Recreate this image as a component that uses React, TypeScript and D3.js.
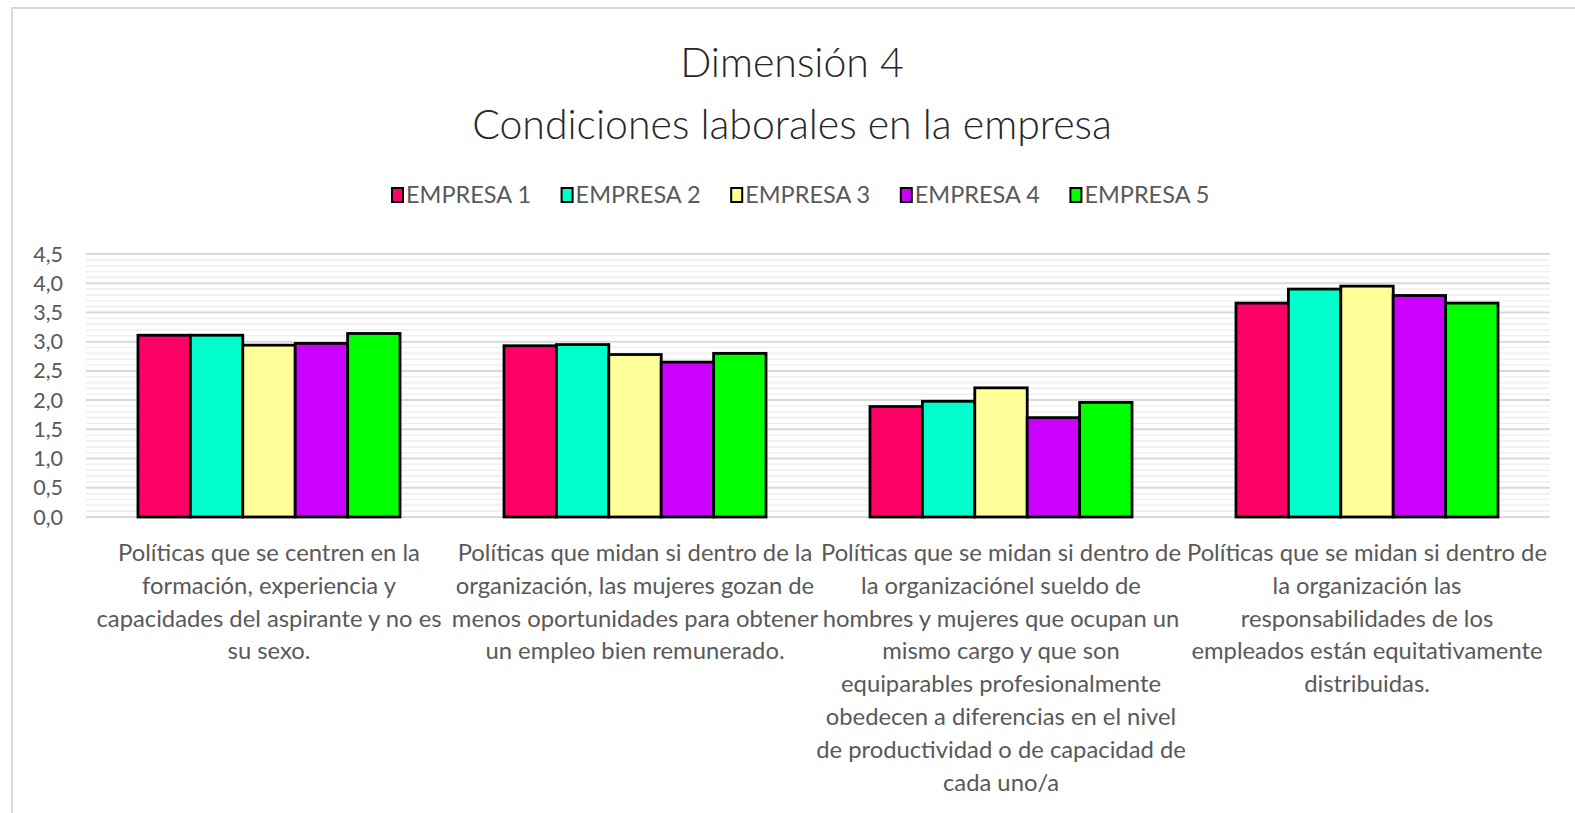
import React, { useRef, useEffect } from "react";
import * as d3 from "d3";

const series = ["EMPRESA 1", "EMPRESA 2", "EMPRESA 3", "EMPRESA 4", "EMPRESA 5"];
const colors = ["#ff0066", "#00ffcc", "#ffff99", "#cc00ff", "#00ff00"];
const categoryLines = [
  ["Políticas que se centren en la", "formación, experiencia y", "capacidades del aspirante y no es", "su sexo."],
  ["Políticas que midan si dentro de la", "organización, las mujeres gozan de", "menos oportunidades para obtener", "un empleo bien remunerado."],
  ["Políticas que se midan si dentro de", "la organizaciónel sueldo de", "hombres y mujeres que ocupan un", "mismo cargo y que son", "equiparables profesionalmente", "obedecen a diferencias en el nivel", "de productividad o de capacidad de", "cada uno/a"],
  ["Políticas que se midan si dentro de", "la organización las", "responsabilidades de los", "empleados están equitativamente", "distribuidas."],
];
const empresa1 = [3.11, 2.93, 1.89, 3.66];
const empresa2 = [3.11, 2.95, 1.98, 3.90];
const empresa3 = [2.94, 2.78, 2.21, 3.95];
const empresa4 = [2.97, 2.65, 1.70, 3.79];
const empresa5 = [3.14, 2.80, 1.96, 3.66];
const values = [empresa1, empresa2, empresa3, empresa4, empresa5];
const yTicks = [0, 0.5, 1, 1.5, 2, 2.5, 3, 3.5, 4, 4.5];

const width = 1575;
const height = 813;
const margin = { top: 254, right: 25, bottom: 296, left: 86 };
const font = "Lato, 'Open Sans', sans-serif";

export default function App() {
  const ref = useRef<SVGSVGElement>(null);
  useEffect(() => {
    if (!ref.current) return;
    const svg = d3.select(ref.current);
    svg.selectAll("*").remove();

    const yScale = d3.scaleLinear().domain([0, 4.5]).range([height - margin.bottom, margin.top]);
    const cats = categoryLines.map((_, i) => String(i));
    const x0 = d3.scaleBand().domain(cats).range([margin.left, width - margin.right]).paddingInner(0.284).paddingOuter(0.142);
    const x1 = d3.scaleBand().domain(series).range([0, x0.bandwidth()]);

    // chart frame
    svg.append("rect").attr("x", 12).attr("y", 8).attr("width", 1700).attr("height", 1000)
      .attr("fill", "#fff").attr("stroke", "#d9d9d9").attr("stroke-width", 2);

    // minor gridlines
    const minor = d3.range(0, 45).map(d => d / 10).filter(d => Math.round(d * 10) % 5 !== 0);
    svg.append("g").selectAll("line").data(minor).join("line")
      .attr("x1", margin.left).attr("x2", width - margin.right)
      .attr("y1", d => yScale(d)).attr("y2", d => yScale(d))
      .attr("stroke", "#efefef").attr("stroke-width", 1.6);
    svg.append("g").selectAll("line").data(yTicks).join("line")
      .attr("x1", margin.left).attr("x2", width - margin.right)
      .attr("y1", d => yScale(d)).attr("y2", d => yScale(d))
      .attr("stroke", "#d9d9d9").attr("stroke-width", 2);

    // y labels
    svg.append("g").selectAll("text").data(yTicks).join("text")
      .attr("x", 63).attr("y", d => yScale(d)).attr("dy", "0.35em")
      .attr("text-anchor", "end").attr("font-family", font).attr("font-size", 21.5)
      .attr("fill", "#595959").text(d => d3.format(".1f")(d).replace(".", ","));

    // bars
    values.forEach((vals, si) => {
      svg.append("g").selectAll("rect").data(vals).join("rect")
        .attr("x", (d, i) => (x0(cats[i]) as number) + (x1(series[si]) as number))
        .attr("y", d => yScale(d))
        .attr("width", x1.bandwidth())
        .attr("height", d => yScale(0) - yScale(d))
        .attr("fill", colors[si]).attr("stroke", "#000").attr("stroke-width", 2.8);
    });

    // category labels
    categoryLines.forEach((lines, i) => {
      const cx = (x0(cats[i]) as number) + x0.bandwidth() / 2;
      svg.append("text").attr("font-family", font).attr("font-size", 23.8).attr("fill", "#595959")
        .attr("text-anchor", "middle")
        .selectAll("tspan").data(lines).join("tspan")
        .attr("x", cx).attr("y", (d, j) => 561 + j * 32.8).text(d => d);
    });

    // legend
    const legend = svg.append("g");
    series.forEach((s, i) => {
      const lx = 392 + i * 169.6;
      legend.append("rect").attr("x", lx).attr("y", 188).attr("width", 11).attr("height", 14)
        .attr("fill", colors[i]).attr("stroke", "#000").attr("stroke-width", 2);
      legend.append("text").attr("x", lx + 14).attr("y", 203).attr("font-family", font)
        .attr("font-size", 23.5).attr("fill", "#595959").text(s);
    });

    // title
    const title = svg.append("text").attr("font-family", font).attr("font-size", 41)
      .attr("font-weight", 300).attr("fill", "#262626").attr("text-anchor", "middle");
    title.append("tspan").attr("x", 792).attr("y", 77).text("Dimensión 4");
    title.append("tspan").attr("x", 792).attr("y", 139).text("Condiciones laborales en la empresa");
  }, []);

  return (
    <svg ref={ref} width={width} height={height}
      style={{ position: "absolute", left: 0, top: 0, background: "#fff" }} />
  );
}
